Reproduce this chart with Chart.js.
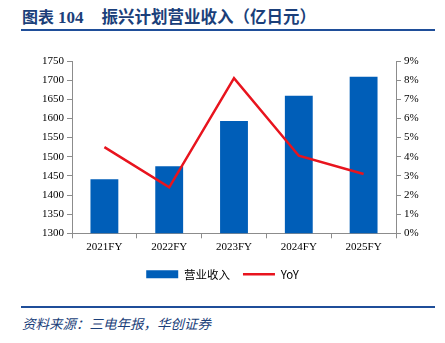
<!DOCTYPE html>
<html lang="zh">
<head>
    <meta charset="UTF-8">
    <title>振兴计划营业收入</title>
    <script src="https://cdn.jsdelivr.net/npm/chart.js"></script>
    <style>
        body { margin: 0; width: 445px; height: 343px; background: #fff; position: relative; overflow: hidden; }
        .title {
            position: absolute; left: 22px; top: 4px;
            font-family: 'Noto Sans CJK SC', sans-serif; font-weight: bold; font-size: 16px;
            color: #1b3f7a; white-space: nowrap;
        }
        .title .num { font-family: 'Liberation Serif', serif; font-size: 17px; margin-left: 4px; margin-right: 18px; }
        .title .name { font-size: 16.5px; }
        .rule { position: absolute; left: 21px; width: 414px; height: 2px; background: #1f4e99; }
        .source {
            position: absolute; left: 22px; top: 313px;
            font-family: 'Noto Sans CJK SC', sans-serif; font-style: italic; font-size: 13.5px;
            color: #1b3f7a;
        }
        #wrap { position: absolute; left: 0; top: 40px; width: 445px; height: 252px; }
    </style>
</head>
<body>
    <div class="title">图表<span class="num">104</span><span class="name">振兴计划营业收入（亿日元）</span></div>
    <div class="rule" style="top: 29px;"></div>
    <div id="wrap"><canvas id="revChart"></canvas></div>
    <div class="rule" style="top: 306px;"></div>
    <div class="source">资料来源：三电年报，华创证券</div>

    <script>
        const years = ['2021FY', '2022FY', '2023FY', '2024FY', '2025FY'];
        const revenue = [1441, 1475, 1593, 1659, 1709];
        const yoy = [4.5, 2.4, 8.1, 4.05, 3.1];

        const serif = "'Liberation Serif', 'Times New Roman', serif";
        const axisGray = '#8c8c8c';

        new Chart(document.getElementById('revChart'), {
            type: 'bar',
            data: {
                labels: years,
                datasets: [
                    {
                        type: 'line',
                        label: 'YoY',
                        data: yoy,
                        yAxisID: 'y2',
                        borderColor: '#e8141e',
                        backgroundColor: '#e8141e',
                        borderWidth: 2.5,
                        pointRadius: 0,
                        tension: 0,
                        pointStyle: 'line',
                        order: 0
                    },
                    {
                        label: '营业收入',
                        data: revenue,
                        yAxisID: 'y',
                        backgroundColor: '#005eb8',
                        barPercentage: 0.43,
                        categoryPercentage: 1,
                        pointStyle: 'rect',
                        order: 1
                    }
                ]
            },
            options: {
                responsive: true,
                maintainAspectRatio: false,
                animation: false,
                layout: { padding: { top: 21, left: 0, right: 0, bottom: 2 } },
                plugins: {
                    tooltip: { enabled: false },
                    legend: {
                        position: 'bottom',
                        reverse: true,
                        labels: {
                            usePointStyle: true,
                            pointStyleWidth: 32,
                            boxHeight: 8,
                            padding: 13,
                            color: '#000',
                            font: { family: "'Noto Sans CJK SC', " + serif, size: 11.5 }
                        }
                    }
                },
                scales: {
                    x: {
                        grid: { drawOnChartArea: false, drawTicks: true, tickLength: 5, color: axisGray },
                        border: { color: axisGray },
                        ticks: { color: '#000', font: { family: serif, size: 11 }, padding: 2 }
                    },
                    y: {
                        position: 'left',
                        min: 1300,
                        max: 1750,
                        afterFit(scale) { scale.width = 72; },
                        ticks: {
                            stepSize: 50,
                            color: '#000',
                            font: { family: serif, size: 11 },
                            padding: 3,
                            callback: v => String(v)
                        },
                        grid: { drawOnChartArea: false, tickLength: 5, color: axisGray },
                        border: { color: axisGray }
                    },
                    y2: {
                        position: 'right',
                        min: 0,
                        max: 9,
                        afterFit(scale) { scale.width = 49; },
                        ticks: {
                            stepSize: 1,
                            color: '#000',
                            font: { family: serif, size: 11 },
                            padding: 3,
                            callback: v => v + '%'
                        },
                        grid: { drawOnChartArea: false, tickLength: 5, color: axisGray },
                        border: { color: axisGray }
                    }
                }
            }
        });
    </script>
</body>
</html>
